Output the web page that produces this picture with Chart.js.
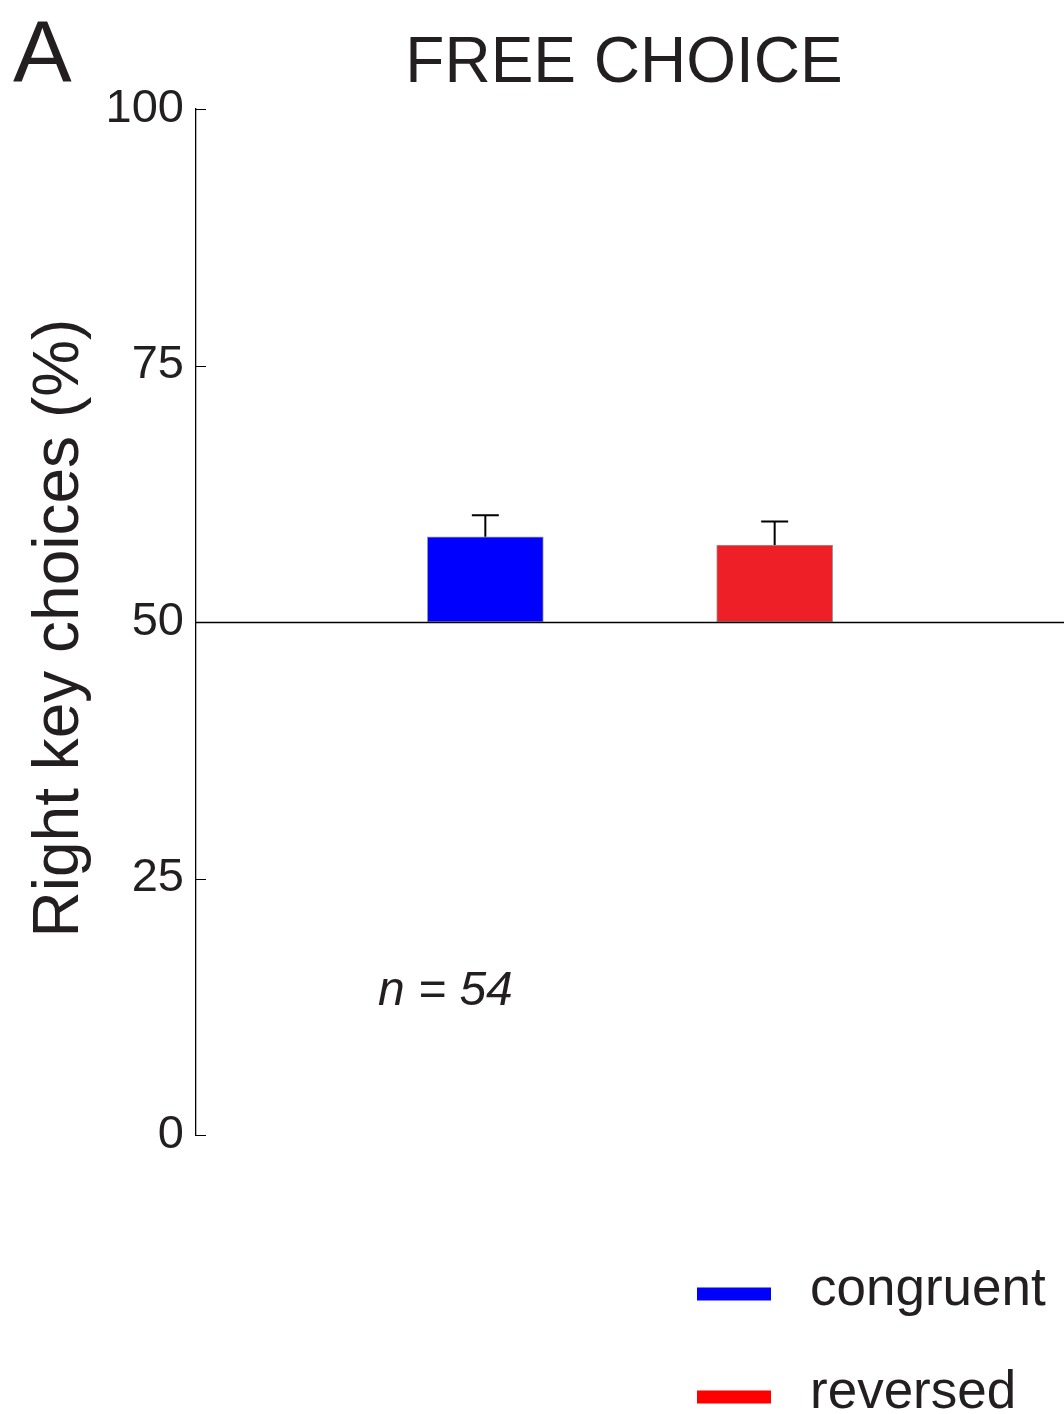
<!DOCTYPE html>
<html>
<head>
<meta charset="utf-8">
<script src="https://cdn.jsdelivr.net/npm/chart.js@4/dist/chart.umd.min.js"></script>
<style>
  html, body { margin: 0; padding: 0; background: #fff; }
  #wrap { width: 1064px; height: 1414px; }
</style>
</head>
<body>
<div id="wrap"><canvas id="c" width="1064" height="1414"></canvas></div>
<script>
// Conditions and their mean right-key choice rates (%)
const categories = ['congruent', 'reversed'];
const xPositions = [1, 2];
const meanValues = [58.3, 57.5];
// Upper end of the error bars (mean + SEM)
const errorTops = [60.4, 59.8];
const chanceLevel = 50;
const yTicks = [0, 25, 50, 75, 100];

const barColors = ['#0000ff', '#ee1f26'];
const legendColors = ['#0000ff', '#ff0000'];
const inkColor = '#231f20';
const fontFamily = '"Liberation Sans", Arial, Helvetica, sans-serif';

// Error bars above each bar
const errorBarPlugin = {
  id: 'errorBars',
  afterDatasetsDraw(chart) {
    const ctx = chart.ctx;
    const y = chart.scales.y;
    ctx.save();
    ctx.strokeStyle = '#000';
    ctx.lineWidth = 2;
    chart.data.datasets.forEach((ds, i) => {
      const bar = chart.getDatasetMeta(i).data[0];
      const top = y.getPixelForValue(meanValues[i]);
      const err = y.getPixelForValue(errorTops[i]);
      ctx.beginPath();
      ctx.moveTo(bar.x, top);
      ctx.lineTo(bar.x, err);
      ctx.moveTo(bar.x - 13.5, err);
      ctx.lineTo(bar.x + 13.5, err);
      ctx.stroke();
    });
    ctx.restore();
  }
};

// Chance-level reference line, inward y ticks, texts and legend
const decorPlugin = {
  id: 'decor',
  afterDatasetsDraw(chart) {
    const ctx = chart.ctx;
    const area = chart.chartArea;
    const y = chart.scales.y;
    ctx.save();

    // line at 50 %
    const yc = Math.round(y.getPixelForValue(chanceLevel)) + 0.5;
    ctx.strokeStyle = '#000';
    ctx.lineWidth = 1.3;
    ctx.beginPath();
    ctx.moveTo(area.left, yc);
    ctx.lineTo(area.right, yc);
    ctx.stroke();

    // inward tick marks
    ctx.lineWidth = 1;
    yTicks.forEach(v => {
      const py = Math.round(y.getPixelForValue(v)) + 0.5;
      ctx.beginPath();
      ctx.moveTo(area.left, py);
      ctx.lineTo(area.left + 10, py);
      ctx.stroke();
    });

    ctx.fillStyle = inkColor;

    // panel letter
    ctx.textAlign = 'left';
    ctx.textBaseline = 'alphabetic';
    ctx.font = '88px ' + fontFamily;
    ctx.fillText('A', 13, 82);

    // title
    ctx.textAlign = 'center';
    ctx.font = '64px ' + fontFamily;
    ctx.fillText('FREE CHOICE', 624, 82);

    // axis title
    ctx.save();
    ctx.translate(78, 628);
    ctx.rotate(-Math.PI / 2);
    ctx.font = '64px ' + fontFamily;
    ctx.textAlign = 'center';
    ctx.fillText('Right key choices (%)', 0, 0);
    ctx.restore();

    // sample size
    ctx.textAlign = 'left';
    ctx.font = 'italic 48px ' + fontFamily;
    ctx.fillText('n = 54', 378, 1005);

    // legend
    ctx.font = '53px ' + fontFamily;
    const rows = [1294, 1397];
    chart.data.datasets.forEach((ds, i) => {
      ctx.fillStyle = legendColors[i];
      ctx.fillRect(697, rows[i] - 6.5, 74, 13);
      ctx.fillStyle = inkColor;
      ctx.fillText(ds.label, 810, rows[i] + 11);
    });

    ctx.restore();
  }
};

new Chart(document.getElementById('c'), {
  type: 'bar',
  data: {
    datasets: categories.map((name, i) => ({
      label: name,
      data: [{ x: xPositions[i], y: [chanceLevel, meanValues[i]] }],
      backgroundColor: barColors[i],
      borderColor: 'rgba(70,70,70,0.55)',
      borderWidth: 1,
      borderSkipped: false,
      barThickness: 116,
      grouped: false
    }))
  },
  options: {
    responsive: false,
    animation: false,
    devicePixelRatio: 1,
    layout: { padding: { top: 109, bottom: 279, left: 0, right: 0 } },
    plugins: {
      legend: { display: false },
      tooltip: { enabled: false },
      title: { display: false }
    },
    scales: {
      x: {
        type: 'linear',
        min: 0,
        max: 3,
        offset: false,
        display: false
      },
      y: {
        min: 0,
        max: 100,
        afterBuildTicks(scale) {
          scale.ticks = yTicks.map(v => ({ value: v }));
        },
        afterFit(scale) {
          scale.width = 196;
        },
        grid: { display: false, drawTicks: false },
        border: { display: true, color: '#000', width: 1.3 },
        ticks: {
          padding: 12,
          color: inkColor,
          font: { family: fontFamily, size: 47 }
        }
      }
    }
  },
  plugins: [decorPlugin, errorBarPlugin]
});
</script>
</body>
</html>
